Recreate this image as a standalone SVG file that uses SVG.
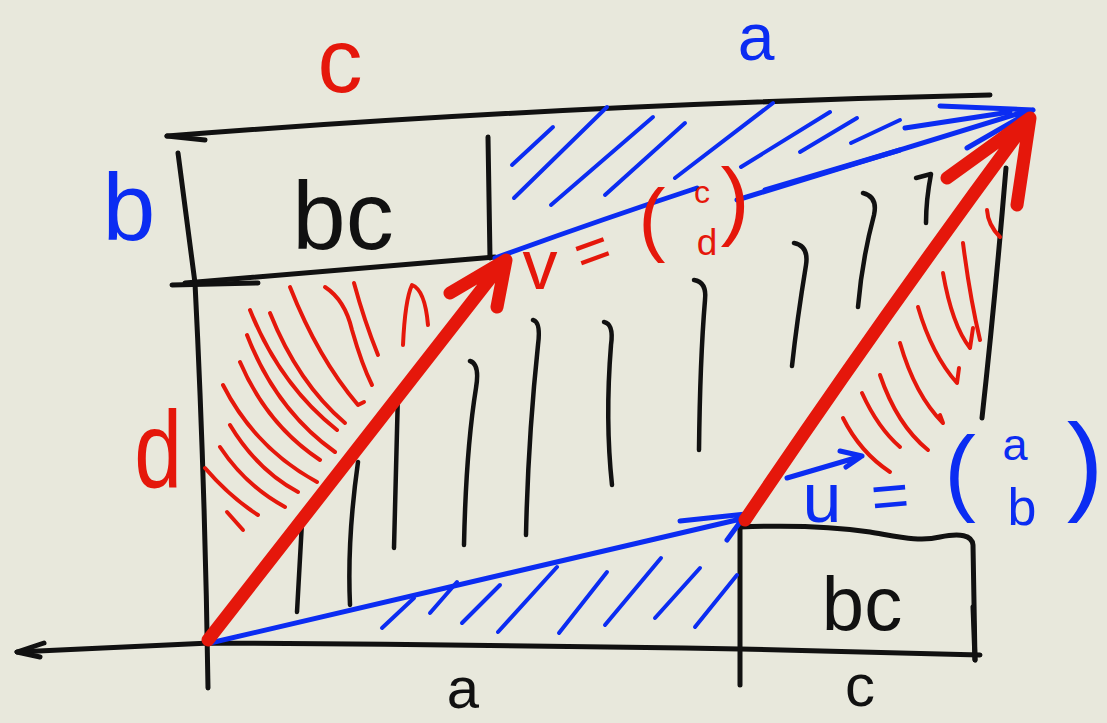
<svg xmlns="http://www.w3.org/2000/svg" width="1107" height="723" viewBox="0 0 1107 723">
<style>
.k{fill:none;stroke:#111;stroke-width:5;stroke-linecap:round;stroke-linejoin:round}
.kh{fill:none;stroke:#111;stroke-width:4.5;stroke-linecap:round;stroke-linejoin:round}
.rh{fill:none;stroke:#e5170b;stroke-width:4;stroke-linecap:round;stroke-linejoin:round}
.bh{fill:none;stroke:#0b2cf2;stroke-width:4;stroke-linecap:round;stroke-linejoin:round}
.ra{fill:none;stroke:#e5170b;stroke-width:13;stroke-linecap:round;stroke-linejoin:round}
.ba{fill:none;stroke:#0b2cf2;stroke-width:5;stroke-linecap:round;stroke-linejoin:round}
text{font-family:"Liberation Sans",Arial,sans-serif;text-anchor:middle}
.tr{fill:#e5170b}.tb{fill:#0b2cf2}.tk{fill:#111}
</style>
<rect x="0" y="0" width="1107" height="723" fill="#e8e8dc"/>

<g id="frame">
  <path class="k" d="M167,136 Q560,105 990,95"/>
  <path class="k" stroke-width="7" d="M167,136 L205,140"/>
  <path class="k" d="M178,153 L195,283 Q205,480 208,688"/>
  <path class="k" d="M185,283 L495,257"/>
  <path class="k" stroke-width="6" d="M172,285 L258,283"/>
  <path class="k" d="M488,137 L490,258"/>
  <path class="k" d="M1006,168 Q995,300 982,418"/>
  <path class="k" d="M17,652 L210,643 Q500,645 740,649 L980,655"/>
  <path class="k" stroke-width="6" d="M44,643 L17,652 L40,657"/>
</g>

<g id="box-bottom">
  <path class="k" d="M740,522 L740,685"/>
  <path class="k" d="M740,527 C790,525 830,526 870,532 C900,537 920,542 940,537 C960,533 972,535 973,545 L975,660"/>
  <path class="k" stroke-width="9" d="M973,607 L975,660"/>
  <text class="tk" x="862" y="630" font-size="76">bc</text>
</g>

<g id="box-top">
  <text class="tk" x="343" y="249" font-size="96">bc</text>
</g>

<g id="hatch-black">
  <path class="kh" d="M297,612 L302,522"/>
  <path class="kh" d="M350,605 Q347,540 358,462"/>
  <path class="kh" d="M392,398 L398,392 Q396,470 394,548"/>
  <path class="kh" d="M470,361 Q480,364 476,388 Q466,450 464,545"/>
  <path class="kh" d="M533,320 Q541,322 538,345 Q528,440 526,535"/>
  <path class="kh" d="M604,322 Q614,324 611,345 Q605,420 612,485"/>
  <path class="kh" d="M694,280 Q707,282 705,300 Q700,360 699,450"/>
  <path class="kh" d="M794,243 Q809,246 806,265 Q797,320 792,366"/>
  <path class="kh" d="M863,193 Q878,197 874,215 Q862,260 858,307"/>
  <path class="kh" d="M916,178 L931,174 Q926,200 926,223"/>
</g>

<g id="hatch-red">
  <path class="rh" d="M290,287 Q318,358 358,405 l6,-3"/>
  <path class="rh" d="M325,287 Q345,300 352,330 Q362,365 372,385"/>
  <path class="rh" d="M354,283 Q364,320 378,355"/>
  <path class="rh" d="M403,345 Q405,300 412,285 Q425,290 428,325"/>
  <path class="rh" d="M270,313 Q298,383 345,423"/>
  <path class="rh" d="M250,310 Q280,385 337,430"/>
  <path class="rh" d="M247,335 Q276,410 335,452"/>
  <path class="rh" d="M240,362 Q267,425 320,460"/>
  <path class="rh" d="M223,385 Q255,448 317,482"/>
  <path class="rh" d="M230,425 Q257,470 298,492"/>
  <path class="rh" d="M220,447 Q246,486 285,507"/>
  <path class="rh" d="M205,468 Q230,497 258,515"/>
  <path class="rh" d="M227,512 L243,530"/>
  <path class="rh" d="M843,418 Q860,452 890,472"/>
  <path class="rh" d="M862,393 Q878,428 900,447"/>
  <path class="rh" d="M880,375 Q897,425 928,450"/>
  <path class="rh" d="M900,343 Q915,395 943,423 l-3,-8"/>
  <path class="rh" d="M918,307 Q932,355 957,383 l2,-15"/>
  <path class="rh" d="M943,273 Q952,325 970,348 l3,-20"/>
  <path class="rh" d="M963,243 Q970,298 980,340"/>
  <path class="rh" d="M987,210 Q988,225 1000,237"/>
</g>

<g id="hatch-blue">
  <path class="bh" d="M512,165 L553,127"/>
  <path class="bh" d="M514,198 L607,107"/>
  <path class="bh" d="M551,205 L653,117"/>
  <path class="bh" d="M605,195 L685,123"/>
  <path class="bh" d="M675,178 L773,103"/>
  <path class="bh" d="M741,167 L830,112"/>
  <path class="bh" d="M800,152 L857,118"/>
  <path class="bh" d="M851,143 L900,120"/>
  <path class="bh" d="M382,628 L414,598"/>
  <path class="bh" d="M430,613 L457,582"/>
  <path class="bh" d="M462,623 L500,585"/>
  <path class="bh" d="M498,632 L557,567"/>
  <path class="bh" d="M559,633 L607,572"/>
  <path class="bh" d="M605,625 L661,558"/>
  <path class="bh" d="M655,618 L700,568"/>
  <path class="bh" d="M695,627 L737,575"/>
</g>

<g id="connectors">
  <path id="u-arrow" class="ba" d="M210,643 L745,518 M680,521 L746,514 M727,540 L746,514"/>
  <path id="v-arrow-a" class="ba" d="M495,258 Q600,220 697,188"/>
  <path id="v-arrow-b" class="ba" stroke-width="7" d="M737,200 L1030,110 M940,106 L1033,110 M967,148 L1033,110"/>
  <path class="ba" stroke-width="9" d="M765,190 L900,150"/>
  <path class="ba" stroke-width="6" d="M905,128 L1010,112"/>
  <path id="v-red" class="ra" d="M208,640 Q340,470 503,262 M450,293 L506,260 L497,307"/>
  <path id="u-red" class="ra" d="M745,520 Q880,320 1028,120 M947,178 L1030,118 L1017,205"/>
  <path id="u-small" class="ba" stroke-width="4" d="M787,478 L862,456 M840,451 L862,456 L846,467"/>
</g>

<g id="labels">
  <text class="tr" x="340" y="92" font-size="90">c</text>
  <text class="tb" x="756" y="60" font-size="66">a</text>
  <text class="tb" x="129" y="240" font-size="95">b</text>
  <text class="tr" transform="translate(158,487) scale(0.78,1)" x="0" y="0" font-size="110">d</text>
  <text class="tk" x="463" y="708" font-size="58">a</text>
  <text class="tk" x="860" y="706" font-size="60">c</text>

  <text class="tr" x="540" y="289" font-size="70">v</text>
  <text class="tr" x="592" y="271" font-size="60" transform="rotate(-20 592 250)">=</text>
  <text class="tr" x="652" y="246" font-size="81">(</text>
  <text class="tr" x="702" y="203" font-size="32">c</text>
  <text class="tr" x="707" y="255" font-size="37">d</text>
  <text class="tr" x="735" y="229" font-size="87">)</text>

  <text class="tb" x="822" y="522" font-size="70">u</text>
  <text class="tb" x="890" y="518" font-size="65" transform="rotate(-5 890 495)">=</text>
  <text class="tb" x="960" y="503" font-size="95">(</text>
  <text class="tb" x="1015" y="460" font-size="45">a</text>
  <text class="tb" x="1022" y="525" font-size="52">b</text>
  <text class="tb" x="1085" y="500" font-size="110">)</text>
</g>
</svg>
